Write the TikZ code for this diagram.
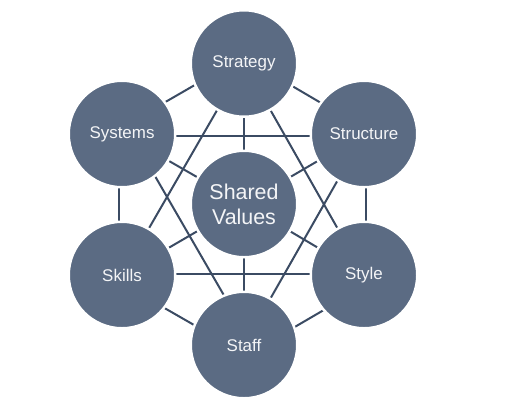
\documentclass[tikz,border=0pt]{standalone}
\usepackage{fontspec}
\setmainfont{Liberation Sans}
\usetikzlibrary{calc}
\definecolor{circfill}{HTML}{5B6B83}
\definecolor{linkcol}{HTML}{3B4B63}
\definecolor{txtcol}{HTML}{F4F5F7}
\newcommand{\offlink}[3]{\draw[link] ($(#1.center)!#3!90:(#2.center)$) -- ($(#2.center)!#3!-90:(#1.center)$);}
\begin{document}
\begin{tikzpicture}[x=1bp,y=-1bp,
  sbox/.style={circle,fill=circfill,draw=white,line width=2.5pt,minimum size=106.5bp,inner sep=0pt,
    text=txtcol,font=\fontsize{17}{20}\selectfont,align=center},
  cbox/.style={sbox,font=\fontsize{21.5}{25}\selectfont},
  link/.style={draw=linkcol,line width=2bp}]
\useasboundingbox (0,0) rectangle (524,412);
\fill[white] (0,0) rectangle (524,412);
\begin{scope}[every node/.style={circle,minimum size=1pt,inner sep=0pt}]
\node (pstr) at (244,63.5) {};
\node (psys) at (122,134) {};
\node (pstu) at (364,134) {};
\node (pshv) at (244,204) {};
\node (pski) at (122,275) {};
\node (psty) at (364,275) {};
\node (psta) at (244,345) {};
\end{scope}
% outer ring (offset outward)
\offlink{pstr}{pstu}{5bp}
\offlink{pstu}{psty}{2bp}
\offlink{psty}{psta}{10bp}
\offlink{psta}{pski}{7.5bp}
\offlink{pski}{psys}{3bp}
\offlink{psys}{pstr}{6bp}
% chords
\draw[link] ($(psys.center)+(0,2)$) -- ($(pstu.center)+(0,2)$);
\draw[link] ($(pski.center)+(0,-1)$) -- ($(psty.center)+(0,-1)$);
\draw[link] (pstr.center) -- (pski.center);
\draw[link] (pstr.center) -- (psty.center);
\offlink{psys}{psta}{7.5bp}
\draw[link] (pstu.center) -- (psta.center);
% spokes
\foreach \a in {pstr,psys,pstu,pski,psty,psta}
  \draw[link] (\a.center) -- (pshv.center);
\node[sbox] (strategy) at (pstr) {Strategy};
\node[sbox] (systems) at (psys) {Systems};
\node[sbox] (structure) at (pstu) {Structure};
\node[cbox] (shared) at (pshv) {Shared\\Values};
\node[sbox] (skills) at (pski) {Skills};
\node[sbox] (style) at (psty) {Style};
\node[sbox] (staff) at (psta) {Staff};
\end{tikzpicture}
\end{document}
